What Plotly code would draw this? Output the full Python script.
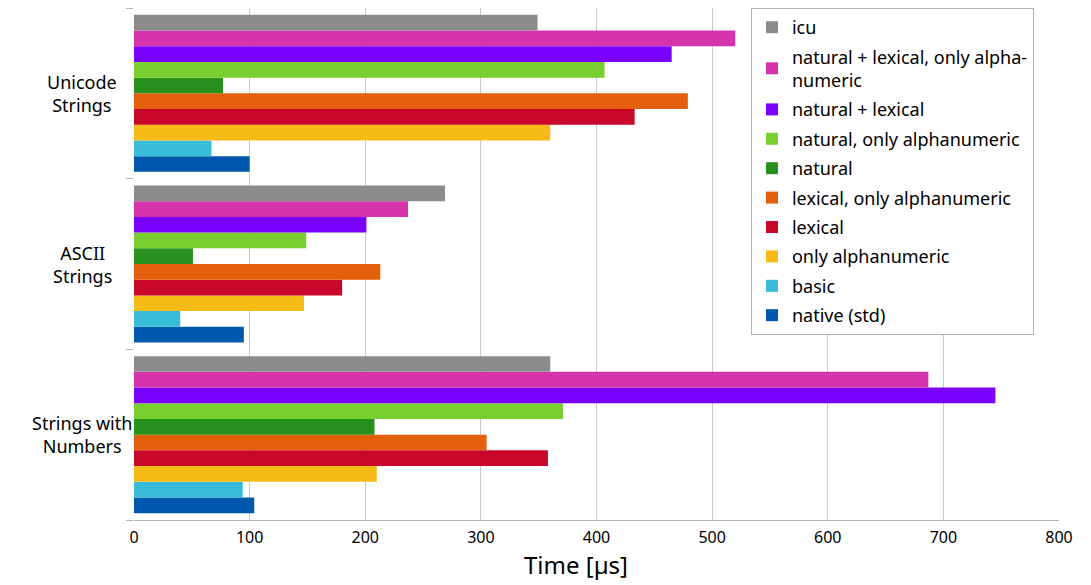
import plotly.graph_objects as go

categories = ["Strings with Numbers", "ASCII Strings", "Unicode Strings"]
category_labels = ["Strings with<br>Numbers", "ASCII<br>Strings", "Unicode<br>Strings"]

# series listed bottom-to-top within each group (legend shows them reversed)
series_names = [
    "native (std)",
    "basic",
    "only alphanumeric",
    "lexical",
    "lexical, only alphanumeric",
    "natural",
    "natural, only alphanumeric",
    "natural + lexical",
    "natural + lexical, only alpha-<br>numeric",
    "icu",
]

# values per series: [Strings with Numbers, ASCII Strings, Unicode Strings]
native_std = [104, 95, 100]
basic = [94, 40, 67]
only_alnum = [210, 147, 360]
lexical = [358, 180, 433]
lexical_alnum = [305, 213, 479]
natural = [208, 51, 77]
natural_alnum = [371, 149, 407]
natural_lexical = [745, 201, 465]
natural_lexical_alnum = [687, 237, 520]
icu = [360, 269, 349]

series_values = [
    native_std, basic, only_alnum, lexical, lexical_alnum,
    natural, natural_alnum, natural_lexical, natural_lexical_alnum, icu,
]

colors = [
    "#0058ac", "#38bdd9", "#f6bb17", "#c9072a", "#e35f0b",
    "#28901c", "#79cf2f", "#7a00ff", "#d534ac", "#8c8c8c",
]

fig = go.Figure()

n = len(series_names)
for i, (name, vals, color) in enumerate(zip(series_names, series_values, colors)):
    fig.add_trace(go.Bar(
        y=categories,
        x=vals,
        name=name,
        legendgroup=f"g{i}",
        legendrank=n - i,
        orientation="h",
        marker=dict(color=color, line=dict(width=0)),
    ))

# centred two-line category labels
for cat, label in zip(categories, category_labels):
    fig.add_annotation(
        x=-0.056, xref="paper", y=cat, yref="y",
        text=label, showarrow=False, align="center",
        xanchor="center", yanchor="middle",
        font=dict(size=18, color="#000000"),
    )

# axis title, sitting slightly left of the plot centre as in the original
fig.add_annotation(
    x=0.478, xref="paper", y=-0.121, yref="paper",
    text="Time [µs]", showarrow=False,
    xanchor="center", yanchor="bottom",
    borderpad=0,
    font=dict(size=24, color="#000000"),
)

fig.update_layout(
    width=1091,
    height=585,
    barmode="group",
    bargap=0.08,
    bargroupgap=0,
    plot_bgcolor="white",
    paper_bgcolor="white",
    font=dict(family="Noto Sans", size=16, color="#000000"),
    margin=dict(l=126, r=40, t=0, b=73),
    xaxis=dict(
        range=[0, 800],
        dtick=100,
        showgrid=True,
        gridcolor="#c8c8c8",
        gridwidth=1,
        showline=True,
        linecolor="#b3b3b3",
        mirror=True,
        zeroline=False,
        ticks="",
        ticklabelstandoff=3,
        tickfont=dict(size=16),
    ),
    yaxis=dict(
        categoryorder="array",
        categoryarray=categories,
        showticklabels=False,
        ticks="outside",
        tickson="boundaries",
        ticklen=7,
        tickcolor="#b3b3b3",
        showline=False,
        showgrid=False,
    ),
    legend=dict(
        x=0.667, y=1.0, xanchor="left", yanchor="top",
        traceorder="grouped",
        tracegroupgap=3,
        bgcolor="white",
        bordercolor="#b3b3b3",
        borderwidth=1,
        font=dict(size=18),
    ),
)

fig.write_html("out.html")
